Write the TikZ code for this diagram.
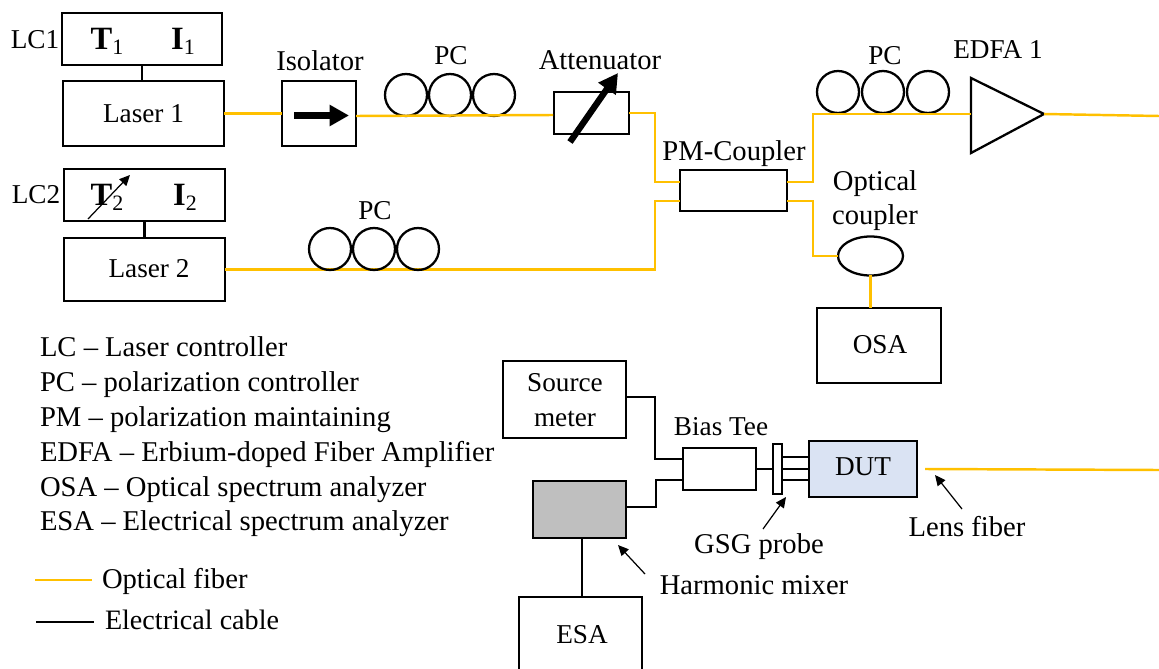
\documentclass[tikz,border=0pt]{standalone}
\usepackage{fontspec}
\setmainfont{Liberation Serif}
\usepackage{xcolor}
\usetikzlibrary{arrows.meta,shapes.geometric}
\definecolor{fibercol}{HTML}{FFC000}
\definecolor{mixercol}{HTML}{BFBFBF}
\definecolor{dutcol}{HTML}{DAE3F3}
\newcommand{\lowidx}[1]{\raisebox{-3pt}{\normalfont\fontsize{12.5}{13}\selectfont #1}}
\tikzset{
  box/.style={draw, line width=1.3pt, inner sep=0pt, outer sep=0pt},
  pcring/.style={draw, circle, line width=1.3pt, minimum size=0.84cm, inner sep=0pt, outer sep=0pt},
  fiber/.style={fibercol, line width=1.4pt},
  cable/.style={black, line width=1.3pt},
  thickarrow/.style={black, line width=3.6pt, -{Triangle[length=11pt,width=11.5pt]}},
  thinarrow/.style={black, line width=0.7pt, -{Triangle[length=6pt,width=5.5pt]}},
  lbl/.style={inner sep=0pt, outer sep=0pt, font=\fontsize{15.5}{18}\selectfont},
  widelbl/.style={inner sep=0pt, outer sep=0pt, font=\fontsize{16.3}{19.3}\selectfont},
  bigl/.style={inner sep=0pt, outer sep=0pt, font=\fontsize{18.5}{20}\selectfont\bfseries}
}
\begin{document}
\begin{tikzpicture}[x=0.02cm,y=-0.02cm]
  \useasboundingbox (0,0) rectangle (1159,669);

  % Laser sources
  \node[box, minimum width=3.2cm, minimum height=1.04cm] (lcone) at (142,39) {};
  \node[box, minimum width=3.22cm, minimum height=1.3cm, lbl] (laserone) at (143.5,113.5) {Laser 1};
  \node[box, minimum width=3.22cm, minimum height=1.04cm] (lctwo) at (144.5,195) {};
  \node[box, minimum width=3.22cm, minimum height=1.26cm] (lasertwo) at (144.5,269.5) {};
  \node[lbl] (lasertwolbl) at (149,269) {Laser 2};
  \draw[cable] (lcone) -- (lcone |- laserone.north);
  \draw[cable] (lctwo) -- (lctwo |- lasertwo.north);
  \node[lbl] (lconelbl) at (35,40) {LC1};
  \node[lbl] (lctwolbl) at (36,195) {LC2};
  \node[bigl] (tone) at (107,41) {T\lowidx{1}};
  \node[bigl] (ione) at (183,41) {I\lowidx{1}};
  \node[bigl] (ttwo) at (107,197) {T\lowidx{2}};
  \node[bigl] (itwo) at (185,197) {I\lowidx{2}};
  \coordinate (tunefrom) at (88,219);
  \coordinate (tuneto) at (130,175);
  \draw[thinarrow] (tunefrom) -- (tuneto);

  % Isolator
  \node[box, minimum width=1.48cm, minimum height=1.3cm] (isolator) at (319,113.5) {};
  \node[widelbl] (isolatorlbl) at (320,61) {Isolator};
  \coordinate (isofrom) at (294,115.5);
  \coordinate (isoto) at (349,115.5);
  \draw[thickarrow] (isofrom) -- (isoto);
  \draw[fiber] (laserone.east) -- (isolator.west);

  % Upper polarization controller
  \node[pcring] (pcaone) at (406,95) {};
  \node[pcring] (pcatwo) at (450,95) {};
  \node[pcring] (pcathree) at (494,95) {};
  \node[lbl] (pcalbl) at (451,56) {PC};

  % Attenuator
  \node[box, minimum width=1.5cm, minimum height=0.84cm] (atten) at (591.5,113) {};
  \node[widelbl] (attenlbl) at (600,60) {Attenuator};
  \coordinate (attfrom) at (570,142);
  \coordinate (attto) at (618,73);
  \draw[thickarrow] (attfrom) -- (attto);
  \coordinate (isoout) at (356,116);
  \coordinate (attin) at (553,115);
  \draw[fiber] (isoout) -- (attin);

  % PM coupler
  \node[box, minimum width=2.14cm, minimum height=0.82cm] (coupler) at (733.5,190.5) {};
  \node[widelbl] (couplerlbl) at (734,154) {PM-Coupler};
  \coordinate (cplinone) at (680,182);
  \coordinate (cplintwo) at (680,201);
  \coordinate (cploutone) at (787,182);
  \coordinate (cplouttwo) at (787,201);
  \draw[fiber] (atten.east) -- ++(26,0) |- (cplinone);
  \draw[fiber] (lasertwo.east) -- ++(430,0) |- (cplintwo);

  % Lower polarization controller
  \node[pcring] (pcbone) at (330,249) {};
  \node[pcring] (pcbtwo) at (374,249) {};
  \node[pcring] (pcbthree) at (418,249) {};
  \node[lbl] (pcblbl) at (375,211) {PC};

  % Amplifier branch
  \node[pcring] (pccone) at (838,92) {};
  \node[pcring] (pcctwo) at (883,92) {};
  \node[pcring] (pccthree) at (928,92) {};
  \node[lbl] (pcclbl) at (885,56) {PC};
  \coordinate (edfatop) at (971,78);
  \coordinate (edfabot) at (971,153);
  \coordinate (edfatip) at (1044,114);
  \coordinate (edfain) at (971,114);
  \draw[line width=1.3pt, line join=miter] (edfatop) -- (edfatip) -- (edfabot) -- cycle;
  \node[lbl] (edfalbl) at (998,50) {EDFA 1};
  \coordinate (fiberout) at (1159,116);
  \draw[fiber] (cploutone) -- ++(26,0) |- (edfain);
  \draw[fiber] (edfatip) -- (fiberout);

  % Monitor branch
  \node[draw, ellipse, line width=1.3pt, minimum width=1.3cm, minimum height=0.78cm, inner sep=0pt, outer sep=0pt] (optcoupler) at (870.5,256) {};
  \node[widelbl, align=center] (optcouplerlbl) at (875,200.5) {Optical\\[0.3pt]coupler};
  \node[box, minimum width=2.48cm, minimum height=1.5cm] (osa) at (879,345.5) {};
  \node[lbl] (osalbl) at (880,345) {OSA};
  \draw[fiber] (cplouttwo) -- ++(26,0) |- (optcoupler.west);
  \draw[fiber] (optcoupler.south) -- (osa.north -| optcoupler.south);

  % Legend
  \node[widelbl, anchor=base west] (legendlc) at (40,356) {LC -- Laser controller};
  \node[widelbl, anchor=base west] (legendpc) at (40,391) {PC -- polarization controller};
  \node[widelbl, anchor=base west] (legendpm) at (40,426) {PM -- polarization maintaining};
  \node[widelbl, anchor=base west] (legendedfa) at (40,461) {EDFA -- Erbium-doped Fiber Amplifier};
  \node[widelbl, anchor=base west] (legendosa) at (40,496) {OSA -- Optical spectrum analyzer};
  \node[widelbl, anchor=base west] (legendesa) at (40,530) {ESA -- Electrical spectrum analyzer};
  \node[widelbl, anchor=base west] (legendfiber) at (102,588) {Optical fiber};
  \node[lbl, anchor=base west, font=\fontsize{16}{19}\selectfont] (legendcable) at (105,629) {Electrical cable};
  \coordinate (fiberkey) at (35,580);
  \coordinate (cablekey) at (36,622);
  \draw[fiber] (fiberkey) -- ++(57,0);
  \draw[cable] (cablekey) -- ++(58,0);

  % Electrical side
  \node[box, minimum width=2.46cm, minimum height=1.54cm] (source) at (564.5,399.5) {};
  \node[lbl, align=center] (sourcelbl) at (565,400) {Source\\[2pt]meter};
  \node[box, fill=mixercol, minimum width=1.86cm, minimum height=1.14cm] (mixer) at (579.5,509.5) {};
  \node[box, minimum width=2.46cm, minimum height=1.8cm] (esa) at (580.5,642) {};
  \node[lbl] (esalbl) at (582,635) {ESA};
  \node[box, minimum width=1.46cm, minimum height=0.84cm] (biastee) at (719.5,469) {};
  \node[lbl] (biasteelbl) at (721,427) {Bias Tee};
  \node[box, minimum width=0.18cm, minimum height=1cm] (probe) at (777.5,469) {};
  \node[box, fill=dutcol, minimum width=2.16cm, minimum height=1.12cm] (dut) at (863,469) {};
  \node[lbl] (dutlbl) at (863,467) {DUT};
  \coordinate (teeintop) at (683,459);
  \coordinate (teeinbot) at (683,480);
  \coordinate (sourceout) at (626,397);
  \coordinate (mixerout) at (626,507);
  \coordinate (esatap) at (582,538);
  \draw[cable] (sourceout) -- ++(29,0) |- (teeintop);
  \draw[cable] (mixerout) -- ++(30,0) |- (teeinbot);
  \draw[cable] (esatap) -- (esatap |- esa.north);
  \draw[cable] (biastee.east) -- (probe.west);
  % Probe tips
  \draw[cable] (probe.east |- 0,457) -- (dut.west |- 0,457);
  \draw[cable] (probe.east) -- (dut.west);
  \draw[cable] (probe.east |- 0,480) -- (dut.west |- 0,480);
  \coordinate (lensstart) at (925,469);
  \coordinate (lensend) at (1159,470);
  \draw[fiber] (lensstart) -- (lensend);

  % Callouts
  \node[widelbl] (lenslbl) at (967,527) {Lens fiber};
  \node[widelbl] (gsglbl) at (759,547) {GSG probe};
  \node[widelbl] (mixerlbl) at (754,585) {Harmonic mixer};
  \coordinate (lensptfrom) at (962,509);
  \coordinate (lensptto) at (935,475);
  \coordinate (gsgptfrom) at (763,529);
  \coordinate (gsgptto) at (786,497);
  \coordinate (mixptfrom) at (645,574);
  \coordinate (mixptto) at (618,545);
  \draw[thinarrow] (lensptfrom) -- (lensptto);
  \draw[thinarrow] (gsgptfrom) -- (gsgptto);
  \draw[thinarrow] (mixptfrom) -- (mixptto);
\end{tikzpicture}
\end{document}
